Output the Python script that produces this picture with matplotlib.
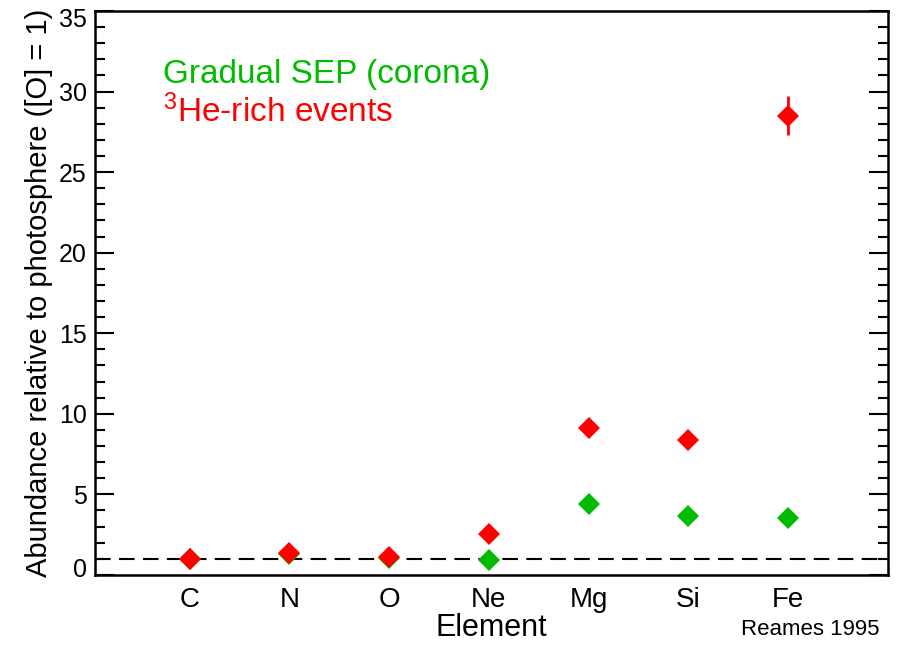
import matplotlib
matplotlib.use("Agg")
import matplotlib.pyplot as plt
import matplotlib.transforms as mtransforms
from matplotlib.ticker import MultipleLocator, NullLocator

plt.rcParams['font.family'] = ['Liberation Sans', 'DejaVu Sans']
plt.rcParams['mathtext.default'] = 'regular'

elements = ['C', 'N', 'O', 'Ne', 'Mg', 'Si', 'Fe']
gradual = [1.0, 1.3, 1.05, 0.95, 4.4, 3.65, 3.55]
he3_rich = [1.0, 1.35, 1.1, 2.55, 9.1, 8.4, 28.5]
he3_err = [0.0, 0.0, 0.0, 0.0, 0.0, 0.0, 1.2]
yticks = [0, 5, 10, 15, 20, 25, 30, 35]

green = '#00bb00'
red = '#ff0000'

fig = plt.figure(figsize=(9.05, 6.46), dpi=100)
ax = fig.add_axes([0.105, 0.110, 0.876, 0.873])

x = list(range(1, len(elements) + 1))
ax.axhline(1.0, color='black', ls=(0, (7.5, 4)), lw=1.5, zorder=1)
ax.plot(x, gradual, 'D', color=green, ms=11, mew=0, zorder=2)
ax.errorbar(x, he3_rich, yerr=he3_err, fmt='D', color=red, ms=11, mew=0,
            elinewidth=2, capsize=0, zorder=3)

ax.set_xlim(0.05, 8.0)
ax.set_ylim(0, 35)
ax.set_xticks(x)
ax.set_xticklabels(elements)
ax.xaxis.set_minor_locator(NullLocator())
ax.tick_params(axis='x', length=0, pad=9, labelsize=20)
ax.set_yticks(yticks)
ax.yaxis.set_minor_locator(MultipleLocator(1))
ax.tick_params(axis='y', which='major', direction='in', length=14, width=1.5,
               right=True, labelsize=18, pad=6)
ax.tick_params(axis='y', which='minor', direction='in', length=7, width=1.5,
               right=True)
for s in ax.spines.values():
    s.set_linewidth(1.8)

# keep the end labels inside the axis range, like the original
labels = ax.get_yticklabels()
labels[0].set_transform(labels[0].get_transform() +
                        mtransforms.ScaledTranslation(0, 7 / 100, fig.dpi_scale_trans))
labels[-1].set_transform(labels[-1].get_transform() +
                         mtransforms.ScaledTranslation(0, -7 / 100, fig.dpi_scale_trans))

ax.set_xlabel('Element', fontsize=22, labelpad=0)
ax.set_ylabel('Abundance relative to photosphere ([O] = 1)', fontsize=21,
              labelpad=4)

ax.text(0.086, 0.887, 'Gradual SEP (corona)', color=green, fontsize=24,
        transform=ax.transAxes, va='center')
ax.text(0.086, 0.821, r'$^{3}$He-rich events', color=red, fontsize=24,
        transform=ax.transAxes, va='center')
fig.text(0.972, 0.025, 'Reames 1995', fontsize=16, ha='right', va='center')

fig.savefig('out.png', dpi=100)
